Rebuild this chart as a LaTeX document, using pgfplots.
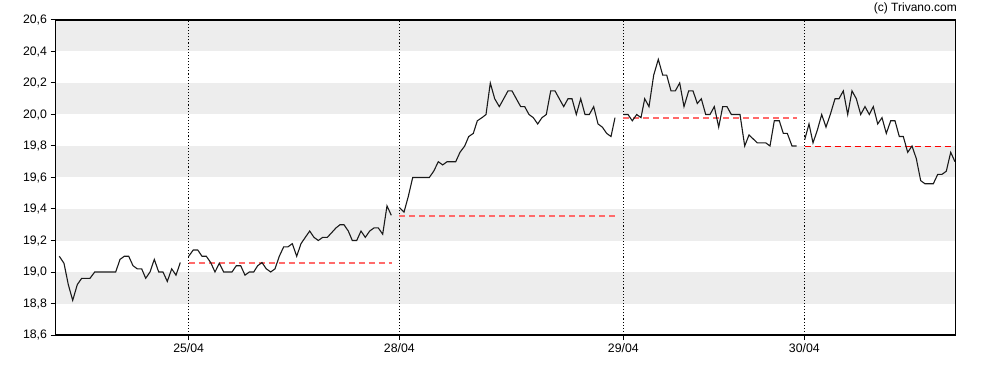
\documentclass[border=0pt]{standalone}
\usepackage{pgfplots}
\pgfplotsset{compat=1.18}
\usepackage{fontspec}
\setmainfont{Liberation Sans}
\definecolor{band}{HTML}{EDEDED}
\definecolor{lred}{HTML}{FF6A6A}
\definecolor{dred}{HTML}{FF0000}
\definecolor{pline}{HTML}{1A1A1A}
\begin{document}
\begin{tikzpicture}[x=1pt,y=1pt]
\path[use as bounding box] (0,0) rectangle (988,370);
\begin{axis}[
  at={(55.5pt,35pt)}, anchor=south west,
  scale only axis, width=900pt, height=315pt,
  xmin=55.5, xmax=955.5, ymin=18.6, ymax=20.6,
  axis on top,
  axis line style={black, line width=1.1pt},
  tick style={black, line width=1pt},
  tick align=outside, major tick length=5pt,
  xtick pos=bottom, ytick pos=left,
  xtick={188.7,399.3,623.3,804.3},
  xticklabels={25/04,28/04,29/04,30/04},
  ytick={18.6,18.8,19.0,19.2,19.4,19.6,19.8,20.0,20.2,20.4,20.6},
  yticklabel style={/pgf/number format/.cd, use comma, fixed, fixed zerofill, precision=1, assume math mode=true},
  ticklabel style={font=\fontsize{12.3}{14}\selectfont},
  clip=true,
]
% background bands
\addplot[fill=band, draw=none] coordinates {(55.5,20.4) (955.5,20.4) (955.5,20.6) (55.5,20.6)} -- cycle;
\addplot[fill=band, draw=none] coordinates {(55.5,20.0) (955.5,20.0) (955.5,20.2) (55.5,20.2)} -- cycle;
\addplot[fill=band, draw=none] coordinates {(55.5,19.6) (955.5,19.6) (955.5,19.8) (55.5,19.8)} -- cycle;
\addplot[fill=band, draw=none] coordinates {(55.5,19.2) (955.5,19.2) (955.5,19.4) (55.5,19.4)} -- cycle;
\addplot[fill=band, draw=none] coordinates {(55.5,18.8) (955.5,18.8) (955.5,19.0) (55.5,19.0)} -- cycle;
% day separators
\addplot[black, line width=1.1pt, dash pattern=on 1.1pt off 2pt] coordinates {(188.7,18.6) (188.7,20.6)};
\addplot[black, line width=1.1pt, dash pattern=on 1.1pt off 2pt] coordinates {(399.3,18.6) (399.3,20.6)};
\addplot[black, line width=1.1pt, dash pattern=on 1.1pt off 2pt] coordinates {(623.3,18.6) (623.3,20.6)};
\addplot[black, line width=1.1pt, dash pattern=on 1.1pt off 2pt] coordinates {(804.3,18.6) (804.3,20.6)};
% previous close
\addplot[lred, line width=2pt, dash pattern=on 6pt off 4pt] coordinates {(188.7,19.0571) (392,19.0571)};
\addplot[lred, line width=2pt, dash pattern=on 6pt off 4pt] coordinates {(399.3,19.3556) (615,19.3556)};
\addplot[lred, line width=2pt, dash pattern=on 6pt off 4pt] coordinates {(623.3,19.9778) (797,19.9778)};
\addplot[dred, line width=1.5pt, dash pattern=on 6pt off 4pt] coordinates {(804.7,19.797) (955.5,19.797)};
% price
\addplot[pline, line width=1.1pt] coordinates {(59.3,19.10)(64,19.055)(68.3,18.92)(72.7,18.82)(77.3,18.92)(81.7,18.96)(90,18.96)(94.7,19.0)(115.7,19.0)(120,19.08)(124.3,19.10)(128.7,19.10)(133,19.04)(137.3,19.02)(141.7,19.02)(145.7,18.96)(150,19.0)(154.3,19.08)(158.7,19.0)(163,19.0)(167.3,18.94)(171.7,19.02)(176,18.98)(180.3,19.06)};
\addplot[pline, line width=1.1pt] coordinates {(188.7,19.10)(193.3,19.14)(197.7,19.14)(202,19.10)(206.3,19.10)(210.7,19.06)(215,19.0)(219.3,19.055)(223.7,19.0)(232,19.0)(236.3,19.04)(240.7,19.04)(245,18.98)(249.3,19.0)(253.7,19.0)(257.7,19.04)(262,19.06)(266.3,19.02)(270.7,19.0)(275,19.02)(279.3,19.10)(283.7,19.16)(288,19.16)(292.3,19.18)(296.7,19.10)(301,19.18)(305.3,19.22)(309.7,19.26)(314,19.22)(318.3,19.20)(322.7,19.22)(327.3,19.22)(331.7,19.25)(336,19.28)(340,19.30)(344,19.30)(348.3,19.26)(352.3,19.20)(356.7,19.20)(361,19.26)(365.3,19.22)(369.7,19.26)(374,19.28)(378.3,19.28)(382.7,19.24)(387,19.42)(391.3,19.36)};
\addplot[pline, line width=1.1pt] coordinates {(399.3,19.41)(404,19.38)(408.3,19.48)(412.7,19.60)(429.3,19.60)(433.7,19.64)(438.3,19.70)(442.7,19.68)(447,19.70)(455.7,19.70)(460,19.76)(464.7,19.80)(468.7,19.86)(473.3,19.88)(477.3,19.96)(482,19.98)(486,20.0)(490.3,20.20)(494.7,20.10)(499.3,20.05)(503.7,20.10)(508,20.15)(512,20.15)(516.3,20.10)(520.7,20.05)(524.7,20.05)(529,20.0)(533.3,19.98)(537.7,19.94)(542,19.98)(546.3,20.0)(550.7,20.15)(555,20.15)(559.3,20.10)(563.7,20.05)(568,20.10)(572,20.10)(576.3,20.0)(580.7,20.10)(585,20.0)(589.3,20.0)(593.7,20.05)(598,19.94)(602.3,19.92)(606.7,19.88)(611,19.86)(615,19.98)};
\addplot[pline, line width=1.1pt] coordinates {(623.3,20.0)(628,20.0)(632.3,19.96)(636.7,20.0)(641,19.98)(644.7,20.10)(649,20.05)(653.7,20.25)(658.3,20.35)(662.7,20.25)(666.7,20.25)(671,20.15)(675.3,20.15)(679.7,20.20)(684,20.05)(688.7,20.15)(693,20.15)(697.3,20.07)(701.3,20.10)(705.7,20.0)(710,20.0)(714.3,20.05)(718.7,19.92)(722.7,20.05)(727,20.05)(731.3,20.0)(740,20.0)(744.7,19.80)(749,19.87)(757.3,19.82)(765.7,19.82)(770,19.80)(774.3,19.96)(779.3,19.96)(783.3,19.88)(787.3,19.88)(792,19.80)(796.7,19.80)};
\addplot[pline, line width=1.1pt] coordinates {(804.7,19.84)(809,19.94)(813,19.82)(817.3,19.90)(821.7,20.0)(826,19.92)(830.3,20.0)(835,20.10)(839,20.10)(843.3,20.15)(847.7,20.0)(852,20.15)(856.3,20.10)(860.7,20.0)(865,20.05)(869.3,20.0)(873.3,20.05)(877.7,19.94)(882,19.98)(886.3,19.88)(890.7,19.96)(895,19.96)(899.3,19.86)(903.3,19.86)(907.7,19.76)(912,19.80)(916.3,19.72)(920.7,19.58)(925,19.56)(933.3,19.56)(937.7,19.62)(942,19.62)(946.3,19.64)(950.7,19.76)(955,19.70)};
\end{axis}
\node[anchor=east, inner sep=0pt, font=\fontsize{12}{14}\selectfont] at (957,361.5) {(c) Trivano.com};
\end{tikzpicture}
\end{document}
